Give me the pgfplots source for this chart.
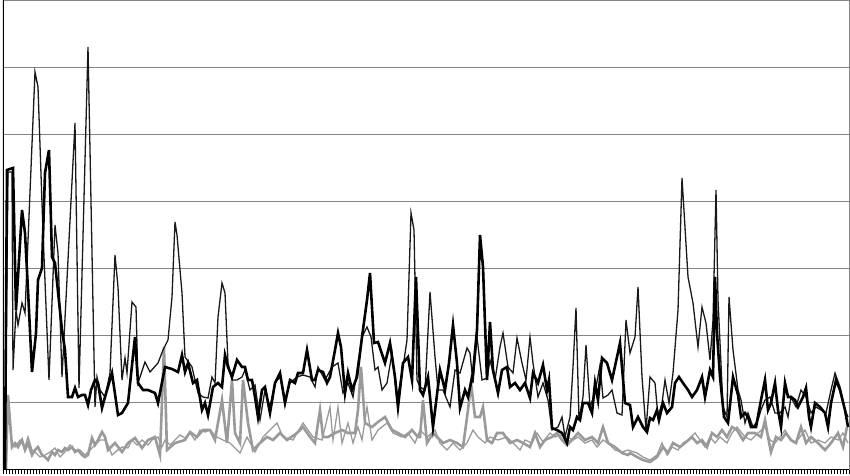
\documentclass[border=0pt]{standalone}
\usepackage{pgfplots}
\pgfplotsset{compat=1.18}
\definecolor{lgray}{HTML}{9A9A9A}
\definecolor{gridgray}{HTML}{858585}
\begin{document}
\begin{tikzpicture}
\begin{axis}[
  scale only axis, width=846pt, height=469pt,
  xmin=3, xmax=849, ymin=0, ymax=469,
  xtick distance=3, xticklabels={}, tick align=outside,
  major tick length=5pt, x tick style={black, line width=0.5pt},
  ytick={0,67,134,201,268,335,402,469}, yticklabels={},
  y tick style={draw=none},
  ymajorgrids, grid style={gridgray, line width=0.9pt},
  axis line style={draw=gridgray, line width=0.9pt},
  clip=true,
]
% thin gray
\addplot[lgray, line width=1.3pt] coordinates {
(6,0)(8,64)(12,24)(15,22)(20,29)(25,22)(28,32)(32,19)(35,17)(40,12)(45,14)(50,17)(55,21)(60,12)(65,17)(70,24)(75,19)(80,19)(85,14)(90,19)(95,24)(100,29)(105,29)
(108,24)(112,14)(118,19)(122,22)(128,21)(132,29)(137,24)(142,29)(148,24)(152,29)(158,32)(162,22)(165,29)(170,24)(175,29)(180,34)(185,31)(190,36)(195,29)(200,39)(205,37)(210,39)
(217,32)(223,29)(230,26)(240,16)(247,32)(255,17)(263,32)(277,46)(283,32)(293,29)(303,46)(313,32)
(322,29)(330,62)(333,29)(338,62)(342,26)(348,46)(353,26)(358,42)(362,29)(367,62)(372,29)(378,39)(387,46)(393,36)(402,32)(408,36)(415,26)(420,39)
(427,32)(435,39)(440,26)(447,19)(453,26)(460,19)(467,26)(473,39)(478,32)(485,26)(490,32)(498,29)(507,32)(513,26)(520,19)(525,29)
(532,26)(537,36)(543,27)(550,36)(555,32)(560,34)(567,32)(573,29)(578,32)(585,26)(592,29)(597,22)(603,29)(608,26)(615,19)(622,17)(628,19)
(637,16)(643,12)(650,9)(657,14)(662,26)(667,14)(672,22)(678,19)(683,26)(688,29)(695,36)(700,29)(705,22)(710,32)(715,26)(720,32)(727,26)(732,36)(737,42)
(745,32)(751,29)(758,36)(765,42)(770,29)(775,26)(780,32)(785,39)(790,29)(795,26)(800,32)(805,39)(811,26)(818,29)(825,26)(831,32)(838,29)(843,36)(848,26)
};
% thick gray
\addplot[lgray, line width=2.6pt] coordinates {
(6,0)(8,74)(12,22)(15,26)(18,22)(22,29)(25,19)(28,26)(32,14)(35,19)(38,22)(42,14)(45,12)(48,9)(52,17)(55,14)(58,19)(62,17)(65,21)(68,19)(72,22)(75,17)(78,19)(82,14)(85,12)(88,14)(92,31)(95,24)(98,29)(102,37)(105,32)
(108,19)(115,26)(122,17)(128,26)(135,31)(142,21)(148,29)(155,32)(160,14)(164,122)(167,19)(175,26)(185,29)(190,37)(197,32)(203,39)(210,39)
(215,29)(222,69)(227,26)(232,89)(235,36)(240,26)(243,89)(248,46)(253,19)(260,26)(267,32)(273,29)(280,36)(287,29)(297,36)(303,42)(310,32)
(315,26)(320,59)(323,32)(328,32)(335,36)(342,39)(348,36)(355,36)(358,59)(361,102)(365,46)(372,42)(378,47)(385,52)(392,39)(398,36)(405,32)(412,39)(418,32)
(420,32)(423,69)(427,26)(433,36)(437,32)(443,26)(450,29)(457,26)(463,22)(468,59)(471,86)(475,52)(480,52)(483,62)(487,29)(492,26)(497,36)(503,36)(510,26)(517,29)(523,26)
(530,22)(535,36)(540,22)(545,29)(552,32)(557,36)(562,29)(567,24)(572,29)(578,36)(585,29)(592,32)(598,26)(603,42)(608,26)(615,22)(622,16)(628,14)
(630,16)(637,12)(643,9)(650,7)(657,12)(663,22)(668,16)(673,26)(680,22)(685,26)(692,32)(697,26)(702,29)(707,22)(712,36)(717,32)(722,39)(727,32)(732,42)(737,39)
(743,29)(748,36)(755,36)(761,32)(765,49)(768,32)(771,17)(776,32)(781,29)(786,36)(791,29)(796,26)(801,42)(806,26)(811,32)(818,26)(825,19)(831,26)(838,36)(843,22)(847,42)
};
% thin black
\addplot[black!90, line width=1.3pt] coordinates {
(5,9)(8,297)(12,297)(13,99)(16,159)(18,144)(22,166)(25,156)(35,397)(38,382)(43,237)(49,89)(55,244)(58,216)(62,92)(75,346)(79,81)(88,422)(95,62)(97,92)(100,79)(105,72)
(110,96)(115,214)(118,182)(122,89)(125,111)(127,96)(132,167)(136,162)(138,86)(145,107)(150,97)(158,106)(163,119)(168,129)(172,172)(175,247)(177,234)(182,176)(185,112)(192,102)(198,76)(203,72)(208,71)(212,92)
(215,86)(218,152)(222,186)(225,176)(228,106)(232,89)(237,89)(242,92)(245,99)(250,79)(255,84)(260,49)(265,79)(270,62)(275,86)(280,92)(285,69)(290,86)(297,92)(303,94)(310,92)
(315,82)(318,102)(325,89)(332,102)(338,106)(343,76)(348,86)(353,72)(358,106)(362,132)(367,142)(371,132)(375,99)(378,102)(382,79)(387,86)(392,116)(397,69)(403,102)(407,129)(411,256)(414,239)(417,89)
(420,82)(425,79)(430,177)(435,112)(438,79)(443,79)(450,62)(455,99)(460,96)(467,121)(470,116)(473,86)(477,132)(482,89)(487,91)(490,109)(495,89)(500,122)(503,136)(508,102)(513,96)(517,131)(522,106)
(526,89)(530,132)(533,106)(538,72)(543,86)(548,69)(552,39)(558,42)(562,52)(565,32)(570,52)(573,102)(576,161)(579,49)(583,72)(586,124)(590,62)(595,76)(600,104)(603,71)(608,74)(612,79)(617,56)(622,54)(626,149)(630,116)
(635,132)(638,182)(642,92)(646,39)(650,92)(655,86)(658,52)(662,66)(665,89)(669,66)(673,96)(678,159)(682,291)(688,192)(693,166)(698,122)(702,162)(706,146)(710,109)(713,149)(716,279)(718,169)(723,62)(727,52)(729,172)(733,119)(738,79)
(741,69)(745,46)(748,56)(753,42)(758,49)(761,59)(765,69)(770,72)(775,56)(780,56)(785,62)(788,52)(791,72)(796,62)(801,79)(806,72)(811,56)(816,62)(821,59)(826,56)(831,79)(835,96)(840,82)(845,59)(848,52)
};
% thick black
\addplot[black, line width=2.6pt] coordinates {
(5,0)(7,299)(13,301)(16,159)(22,259)(25,236)(28,179)(32,97)(36,136)(38,189)(42,201)(45,296)(49,319)(52,212)(55,206)(62,139)(65,119)(68,72)(72,72)(75,81)(78,72)(82,74)(85,74)(88,64)(91,79)(95,89)(98,86)(102,61)
(105,72)(112,96)(118,54)(122,56)(128,66)(135,132)(138,86)(143,79)(148,79)(155,76)(158,66)(165,102)(172,100)(178,97)(182,114)(185,97)(188,106)(193,86)(197,89)(202,59)(205,66)(208,54)(213,82)
(218,86)(222,82)(225,114)(228,102)(232,92)(237,109)(242,102)(245,102)(248,89)(252,89)(255,72)(258,52)(262,79)(265,82)(270,56)(275,86)(280,96)(285,66)(290,89)(295,86)(298,96)(303,96)(307,119)(312,89)
(315,89)(318,99)(323,97)(327,86)(330,92)(335,119)(338,136)(341,122)(345,76)(348,96)(352,79)(357,92)(362,132)(367,169)(370,196)(374,126)(378,127)(385,106)(390,126)(395,92)(398,62)(403,106)(408,112)(412,89)(416,192)(420,79)
(423,74)(428,92)(433,42)(440,99)(445,79)(449,106)(453,144)(457,106)(460,61)(465,79)(468,72)(473,96)(477,139)(480,234)(483,202)(487,89)(490,147)(493,99)(498,76)(502,99)(507,102)(510,82)(515,86)(520,79)
(525,86)(530,71)(533,96)(538,86)(543,104)(547,79)(549,89)(552,41)(557,39)(562,36)(567,26)(570,42)(573,39)(577,52)(580,49)(583,66)(588,66)(592,56)(595,86)(598,69)(602,111)(607,106)(612,89)(617,112)(620,126)(625,66)(630,64)
(633,42)(638,52)(643,42)(647,37)(650,51)(653,49)(657,59)(659,49)(663,66)(667,56)(672,62)(675,86)(679,92)(683,86)(688,79)(692,72)(697,79)(702,92)(705,72)(710,99)(713,92)(715,192)(717,136)(720,92)(724,52)(728,46)(733,92)(738,74)
(741,52)(745,56)(748,52)(751,42)(756,42)(761,69)(765,89)(768,59)(771,66)(775,86)(778,59)(781,42)(785,86)(788,72)(791,72)(795,69)(798,62)(803,72)(806,81)(809,52)(811,42)(815,66)(820,62)(825,56)(828,42)(831,66)(836,89)(840,79)(845,59)(848,42)
};
\draw[black, line width=1.4pt] (rel axis cs:0,0) -- (rel axis cs:0,1);
\draw[black, line width=0.9pt] (rel axis cs:0,0) -- (rel axis cs:1,0);
\end{axis}
\pgfresetboundingbox
\path (0,0) ++(-3pt,-6pt) rectangle (847pt,469pt);
\end{tikzpicture}
\end{document}
